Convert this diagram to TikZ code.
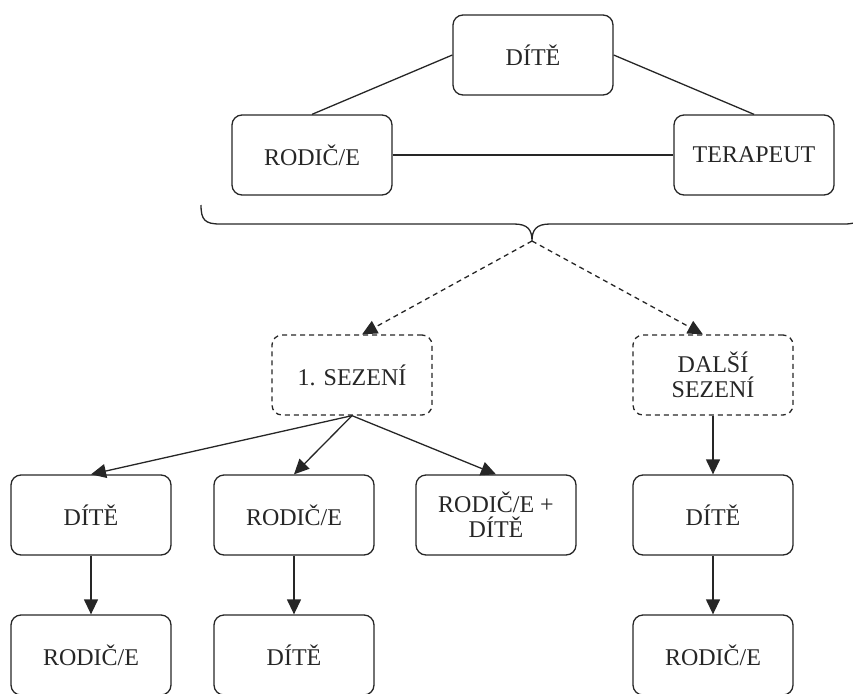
\documentclass[tikz,border=0pt]{standalone}
\usepackage{fontspec}
\setmainfont{Liberation Serif}
\usetikzlibrary{arrows.meta}
\begin{document}
\begin{tikzpicture}[x=1pt,y=-1pt,
  box/.style={draw=black!85, line width=1.3pt, rounded corners=10pt,
    minimum width=160pt, minimum height=80pt, inner sep=2pt, align=center,
    text=black!85, font=\fontsize{24}{25}\selectfont},
  session/.style={box, dashed, dash pattern=on 5pt off 4pt},
  link/.style={draw=black!85, line width=1.3pt},
  flow/.style={link, -{Triangle[length=15pt,width=14pt]}},
  dflow/.style={flow, dash pattern=on 5pt off 4pt}]
\useasboundingbox (0,0) rectangle (853,693);

% the therapeutic triangle
\node[box] (child)  at (533,55)  {DÍTĚ};
\node[box] (parent) at (312,155) {RODIČ/E};
\node[box] (ther)   at (754,155) {TERAPEUT};
\draw[link] (child.west) -- (parent.north);
\draw[link] (child.east) -- (ther.north);
\draw[link] (parent.east) -- (ther.west);

% curly brace gathering the triangle
\coordinate (tip) at (532,241);
\draw[link] (201,205) .. controls (201,220) and (205,224) .. (220,224)
  -- (514,224) .. controls (528,224) and (532,230) .. (tip)
  .. controls (532,230) and (536,224) .. (550,224)
  -- (844,224) .. controls (859,224) and (863,220) .. (863,205);

% sessions
\node[session] (first) at (352,375) {1. SEZENÍ};
\node[session] (next)  at (713,375) {DALŠÍ\\SEZENÍ};
\draw[dflow] (tip) -- (first.76);
\draw[dflow] (tip) -- (next.104);

% first session
\node[box] (a1) at (91,515)  {DÍTĚ};
\node[box] (b1) at (294,515) {RODIČ/E};
\node[box] (c1) at (496,515) {RODIČ/E +\\DÍTĚ};
\node[box] (a2) at (91,655)  {RODIČ/E};
\node[box] (b2) at (294,655) {DÍTĚ};
\draw[flow] (first.south) -- (a1.north);
\draw[flow] (first.south) -- (b1.north);
\draw[flow] (first.south) -- (c1.north);
\draw[flow] (a1) -- (a2);
\draw[flow] (b1) -- (b2);

% following sessions
\node[box] (d1) at (713,515) {DÍTĚ};
\node[box] (d2) at (713,655) {RODIČ/E};
\draw[flow] (next) -- (d1);
\draw[flow] (d1) -- (d2);
\end{tikzpicture}
\end{document}
